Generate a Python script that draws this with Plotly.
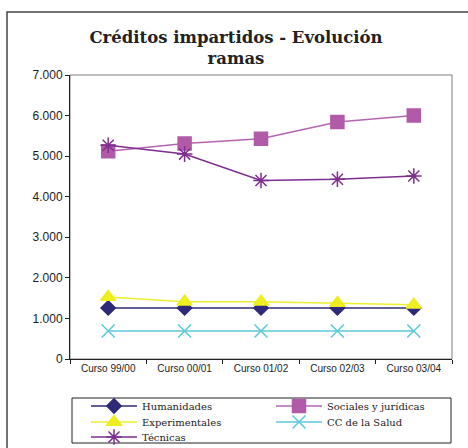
import plotly.graph_objects as go

categories = ["Curso 99/00", "Curso 00/01", "Curso 01/02", "Curso 02/03", "Curso 03/04"]
humanidades = [1260, 1260, 1260, 1260, 1260]
sociales = [5120, 5310, 5430, 5840, 6000]
experimentales = [1530, 1410, 1410, 1380, 1340]
salud = [690, 690, 690, 690, 690]
tecnicas = [5270, 5050, 4400, 4430, 4510]
y_ticks = [0, 1000, 2000, 3000, 4000, 5000, 6000, 7000]

series = [
    ("Humanidades", humanidades, "#2E2A78", "#2E2A78", "diamond", 11, "legend"),
    ("Sociales y jurídicas", sociales, "#B664B0", "#B05AA8", "square", 13, "legend"),
    ("Experimentales", experimentales, "#EEEE30", "#EEEE20", "triangle-up", 13, "legend2"),
    ("CC de la Salud", salud, "#5CC8D8", "#5CC8D8", "x-thin-open", 13, "legend2"),
    ("Técnicas", tecnicas, "#7E2E8E", "#7E2E8E", "asterisk-open", 13, "legend3"),
]

W, H = 468, 448

fig = go.Figure()
for name, vals, lc, mc, sym, ms, lg in series:
    fig.add_trace(go.Scatter(
        x=categories, y=vals, name=name, mode="lines+markers", legend=lg,
        line=dict(color=lc, width=1.5),
        marker=dict(symbol=sym, size=ms, color=mc,
                    line=dict(color=mc, width=1.5)),
    ))


def legend_row(yc):
    return dict(
        orientation="h", xref="container", yref="container",
        x=86 / W, xanchor="left", y=1 - yc / H, yanchor="middle",
        entrywidth=124, entrywidthmode="pixels", itemwidth=46,
        borderwidth=0, bgcolor="rgba(0,0,0,0)",
        font=dict(family="DejaVu Serif", size=10, color="#222222"),
    )


fig.update_layout(
    width=W, height=H,
    margin=dict(l=70, r=16, t=75, b=89),
    paper_bgcolor="white", plot_bgcolor="white",
    separators=",.",
    showlegend=True,
    title=dict(
        text="<b>Créditos impartidos - Evolución<br>ramas</b>",
        x=236 / W, xanchor="center", y=1 - 43 / H, yanchor="top",
        yref="container", xref="container",
        font=dict(family="DejaVu Serif", size=16.5, color="#222222"),
    ),
    font=dict(family="Liberation Sans", color="#222222"),
    legend=legend_row(406),
    legend2=legend_row(422),
    legend3=legend_row(437),
    shapes=[
        dict(type="rect", xref="paper", yref="paper", x0=0, x1=1, y0=0, y1=1,
             line=dict(color="#808080", width=1), layer="below"),
        dict(type="rect", xref="paper", yref="paper",
             x0=(7 - 70) / 382, x1=(480 - 70) / 382,
             y0=(359 - 470) / 284, y1=1 + (75 - 12) / 284,
             line=dict(color="#444444", width=1.5), layer="below"),
        dict(type="rect", xref="paper", yref="paper",
             x0=(72 - 70) / 382, x1=(451 - 70) / 382,
             y0=(359 - 443) / 284, y1=(359 - 398) / 284,
             line=dict(color="#222222", width=1), layer="below"),
    ],
)

fig.update_xaxes(
    type="category", tickson="boundaries", ticks="outside", ticklen=4,
    tickcolor="#222222", showline=True, linecolor="#222222", linewidth=1,
    showgrid=False, tickfont=dict(family="Liberation Sans", size=10, color="#222222"),
    range=[-0.5, 4.5], automargin=False,
)
fig.update_yaxes(
    range=[0, 7000], tickvals=y_ticks, tickformat=",d", ticks="outside",
    ticklen=4, tickcolor="#222222", showline=True, linecolor="#222222",
    linewidth=1, showgrid=False, zeroline=False, automargin=False,
    tickfont=dict(family="Liberation Sans", size=12, color="#222222"),
)

fig.write_html(
    "out.html",
    config={"displayModeBar": False},
    post_script="document.body.style.margin='0';document.body.style.overflow='hidden';",
)
